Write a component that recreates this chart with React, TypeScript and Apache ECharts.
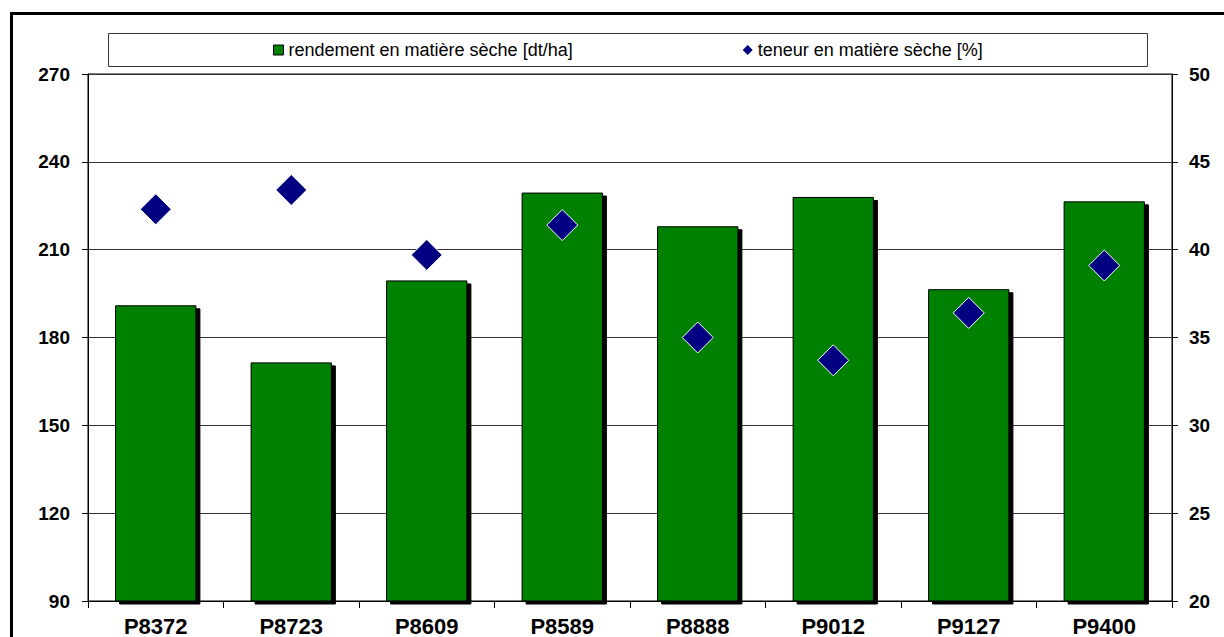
import React, { useEffect, useRef } from "react";
import * as echarts from "echarts";

const categories = ["P8372", "P8723", "P8609", "P8589", "P8888", "P9012", "P9127", "P9400"];
const yieldValues = [191, 171.5, 199.5, 229.5, 218, 228, 196.5, 226.5];
const dryMatterValues = [42.3, 43.4, 39.7, 41.4, 35.0, 33.7, 36.4, 39.1];
const yieldName = "rendement en matière sèche [dt/ha]";
const dryName = "teneur en matière sèche [%]";

const FONT = "'Liberation Sans', Arial, sans-serif";

export default function App() {
  const ref = useRef<HTMLDivElement>(null);
  useEffect(() => {
    if (!ref.current) return;
    const chart = echarts.init(ref.current, null, { renderer: "svg" });
    chart.setOption({
      animation: false,
      backgroundColor: "#ffffff",
      textStyle: { fontFamily: FONT },
      graphic: [
        {
          type: "rect",
          z: 0,
          shape: { x: 11.5, y: 13.5, width: 1400, height: 800 },
          style: { fill: "none", stroke: "#000", lineWidth: 3 },
          silent: true,
        },
        {
          type: "rect",
          z: 0,
          shape: { x: 108.5, y: 33.5, width: 1039, height: 33 },
          style: { fill: "#fff", stroke: "#333", lineWidth: 1 },
          silent: true,
        },
      ],
      legend: {
        left: 273,
        top: 41,
        padding: 0,
        itemWidth: 10,
        itemHeight: 10,
        itemGap: 170,
        textStyle: { fontSize: 18, color: "#000", fontFamily: FONT },
        data: [
          {
            name: yieldName,
            icon: "rect",
            itemStyle: { color: "#008000", borderColor: "#000", borderWidth: 1, shadowColor: "transparent", shadowOffsetX: 0, shadowOffsetY: 0 },
          },
          {
            name: dryName,
            icon: "diamond",
            itemStyle: { color: "#000080", borderWidth: 0 },
          },
        ],
      },
      grid: {
        left: 88,
        top: 74,
        width: 1084,
        height: 529,
        show: true,
        borderColor: "#000",
        borderWidth: 1,
        backgroundColor: "transparent",
      },
      xAxis: {
        type: "category",
        data: categories,
        boundaryGap: true,
        axisLine: { show: true, lineStyle: { color: "#000", width: 1 } },
        axisTick: { show: true, length: 7, inside: false, lineStyle: { color: "#000" } },
        axisLabel: { fontSize: 22, fontWeight: "bold", color: "#000", margin: 14, fontFamily: FONT },
        splitLine: { show: false },
      },
      yAxis: [
        {
          type: "value",
          min: 90,
          max: 270,
          interval: 30,
          position: "left",
          axisLine: { show: true, lineStyle: { color: "#000", width: 1 } },
          axisTick: { show: true, length: 6, lineStyle: { color: "#000" } },
          axisLabel: { fontSize: 19, fontWeight: "bold", color: "#000", margin: 18, fontFamily: FONT },
          splitLine: { show: true, lineStyle: { color: "#333", width: 1 } },
        },
        {
          type: "value",
          min: 20,
          max: 50,
          interval: 5,
          position: "right",
          axisLine: { show: true, lineStyle: { color: "#000", width: 1 } },
          axisTick: { show: true, length: 6, lineStyle: { color: "#000" } },
          axisLabel: { fontSize: 19, fontWeight: "bold", color: "#000", margin: 17, fontFamily: FONT },
          splitLine: { show: false },
        },
      ],
      series: [
        {
          name: yieldName,
          type: "bar",
          data: yieldValues,
          yAxisIndex: 0,
          barWidth: "60%",
          itemStyle: {
            color: "#008000",
            borderColor: "#000",
            borderWidth: 1,
            shadowColor: "#000",
            shadowBlur: 0,
            shadowOffsetX: 4,
            shadowOffsetY: 3,
          },
        },
        {
          name: dryName,
          type: "scatter",
          data: dryMatterValues,
          yAxisIndex: 1,
          symbol: "diamond",
          symbolSize: 31,
          itemStyle: { color: "#000080", borderColor: "#fff", borderWidth: 1, opacity: 1 },
          z: 5,
        },
      ],
    });
    return () => chart.dispose();
  }, []);
  return (
    <div
      ref={ref}
      style={{ position: "fixed", left: 0, top: 0, width: 1224, height: 637 }}
    />
  );
}
